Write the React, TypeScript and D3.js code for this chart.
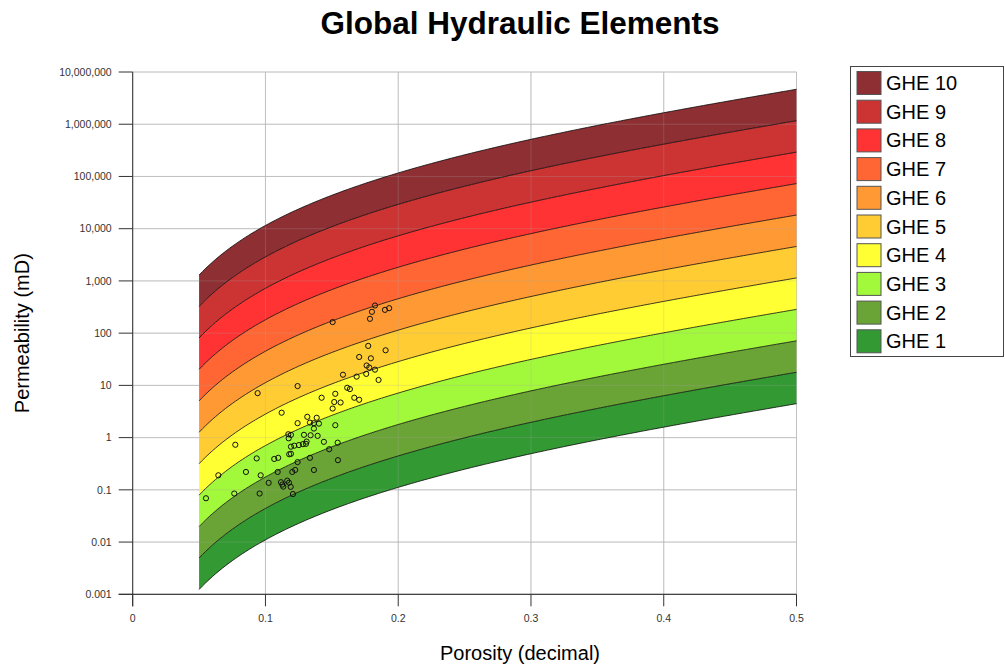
import React from "react";
import * as d3 from "d3";

// GHE band boundaries as Flow Zone Indicator (FZI) values, bottom (GHE 1 lower) to top (GHE 10 upper)
const FZI_BOUNDS = [0.0938, 0.1875, 0.375, 0.75, 1.5, 3, 6, 12, 24, 48, 96];
const GHE_NAMES = ["GHE 1", "GHE 2", "GHE 3", "GHE 4", "GHE 5", "GHE 6", "GHE 7", "GHE 8", "GHE 9", "GHE 10"];
const GHE_COLORS = ["#339933", "#6aa336", "#a2f83a", "#ffff33", "#ffcc33", "#ff9933", "#ff6633", "#ff3333", "#cc3333", "#8e2f33"];
const PHI_RANGE = [0.05, 0.5];

const X_TICKS = [0, 0.1, 0.2, 0.3, 0.4, 0.5];
const X_TICK_LABELS = ["0", "0.1", "0.2", "0.3", "0.4", "0.5"];
const Y_TICKS = [0.001, 0.01, 0.1, 1, 10, 100, 1000, 10000, 100000, 1000000, 10000000];
const Y_TICK_LABELS = ["0.001", "0.01", "0.1", "1", "10", "100", "1,000", "10,000", "100,000", "1,000,000", "10,000,000"];

// Core samples: porosity (decimal) and permeability (mD)
const SAMPLE_PHI = [
  0.1825, 0.1802, 0.1787, 0.19, 0.1932, 0.1506, 0.1774, 0.1905, 0.1706, 0.1794,
  0.1762, 0.1782, 0.1825, 0.1584, 0.1687, 0.1759, 0.1852, 0.0941, 0.1242, 0.1616,
  0.1636, 0.1526, 0.1423, 0.1518, 0.1566, 0.1669, 0.1706, 0.1506, 0.1122, 0.1315,
  0.1386, 0.1335, 0.1365, 0.1403, 0.1242, 0.1526, 0.1365, 0.1172, 0.1192, 0.129,
  0.134, 0.1393, 0.1175, 0.131, 0.144, 0.0773, 0.1544, 0.1192, 0.1217, 0.1252,
  0.1282, 0.1305, 0.148, 0.1179, 0.1192, 0.0934, 0.1066, 0.1096, 0.1335, 0.1242,
  0.1546, 0.0853, 0.0964, 0.1092, 0.1202, 0.1224, 0.1365, 0.0645, 0.1024, 0.1117,
  0.1127, 0.1164, 0.119, 0.1134, 0.0765, 0.0956, 0.1207, 0.0552, 0.1177,
];
const SAMPLE_K = [
  338, 256, 188, 279, 301, 163, 57, 47, 35, 33,
  24, 22, 20, 16, 14.7, 16.6, 12.7, 7.1, 9.7, 9.0,
  8.5, 6.9, 5.8, 4.8, 4.7, 5.8, 5.3, 3.6, 3.0, 2.5,
  2.4, 1.94, 1.89, 1.85, 1.89, 1.73, 1.49, 1.16, 1.13, 1.13,
  1.11, 1.08, 0.97, 0.84, 0.83, 0.73, 0.8, 0.67, 0.7, 0.72,
  0.75, 0.76, 0.6, 0.48, 0.49, 0.4, 0.39, 0.41, 0.41, 0.34,
  0.37, 0.22, 0.19, 0.22, 0.22, 0.24, 0.24, 0.19, 0.136, 0.14,
  0.126, 0.15, 0.114, 0.115, 0.085, 0.085, 0.083, 0.069, 0.137,
];

const W = 1005;
const H = 669;
const M = { left: 132.7, right: 796.5, top: 72, bottom: 594.3 };

// Kozeny-Carman relation defining the GHE boundaries
const perm = (phi: number, fzi: number) => 1014 * fzi * fzi * (phi * phi * phi) / ((1 - phi) * (1 - phi));

export default function App() {
  const x = d3.scaleLinear().domain([0, 0.5]).range([M.left, M.right]);
  const y = d3.scaleLog().domain([0.001, 10000000]).range([M.bottom, M.top]);

  const phis = d3.range(PHI_RANGE[0], PHI_RANGE[1] + 1e-9, 0.0025);

  const area = d3
    .area<number>()
    .x((p) => x(p))
    .curve(d3.curveLinear);

  const bands = GHE_NAMES.map((name, i) => {
    const lo = FZI_BOUNDS[i];
    const hi = FZI_BOUNDS[i + 1];
    const a = area.y0((p) => y(perm(p, lo))).y1((p) => y(perm(p, hi)));
    return { name, color: GHE_COLORS[i], d: a(phis) || "" };
  });

  const line = d3.line<number>().x((p) => x(p));
  const boundaryPaths = FZI_BOUNDS.map((f) => line.y((p) => y(perm(p, f)))(phis) || "");

  const font = "Arial, 'Liberation Sans', sans-serif";

  return (
    <svg
      width={W}
      height={H}
      style={{ position: "absolute", left: 0, top: 0, background: "#fff" }}
      fontFamily={font}
    >
      <rect x={0} y={0} width={W} height={H} fill="#fff" />
      {/* gridlines */}
      {Y_TICKS.map((t) => (
        <line key={"gy" + t} x1={M.left} x2={M.right} y1={y(t)} y2={y(t)} stroke="#c8c8c8" strokeWidth={1} />
      ))}
      {X_TICKS.map((t) => (
        <line key={"gx" + t} x1={x(t)} x2={x(t)} y1={M.top} y2={M.bottom} stroke="#c8c8c8" strokeWidth={1} />
      ))}

      {/* bands */}
      {bands.map((b) => (
        <path key={b.name} d={b.d} fill={b.color} stroke="none" />
      ))}

      {/* faint grid over bands */}
      {Y_TICKS.map((t) => (
        <line key={"oy" + t} x1={M.left} x2={M.right} y1={y(t)} y2={y(t)} stroke="rgba(170,170,170,0.25)" strokeWidth={1} />
      ))}
      {X_TICKS.map((t) => (
        <line key={"ox" + t} x1={x(t)} x2={x(t)} y1={M.top} y2={M.bottom} stroke="rgba(170,170,170,0.25)" strokeWidth={1} />
      ))}

      {/* boundary lines */}
      {boundaryPaths.map((d, i) => (
        <path key={"bl" + i} d={d} fill="none" stroke="rgba(0,0,0,0.75)" strokeWidth={1} />
      ))}

      {/* samples */}
      {SAMPLE_PHI.map((p, i) => (
        <circle key={"s" + i} cx={x(p)} cy={y(SAMPLE_K[i])} r={2.6} fill="none" stroke="#111" strokeWidth={1} />
      ))}

      {/* axes */}
      <line x1={M.left} x2={M.left} y1={M.top} y2={M.bottom + 12} stroke="#333" strokeWidth={1} />
      <line x1={M.left - 14} x2={M.right} y1={M.bottom} y2={M.bottom} stroke="#222" strokeWidth={1} />
      {Y_TICKS.map((t, i) => (
        <g key={"yt" + t}>
          <line x1={M.left - 14} x2={M.left} y1={y(t)} y2={y(t)} stroke="#333" strokeWidth={1} />
          <text x={M.left - 21} y={y(t)} dy="0.35em" textAnchor="end" fontSize={10.5} fill="#333">
            {Y_TICK_LABELS[i]}
          </text>
        </g>
      ))}
      {X_TICKS.map((t, i) => (
        <g key={"xt" + t}>
          <line x1={x(t)} x2={x(t)} y1={M.bottom} y2={M.bottom + 12} stroke="#333" strokeWidth={1} />
          <text x={x(t)} y={622} textAnchor="middle" fontSize={10.5} fill="#333">
            {X_TICK_LABELS[i]}
          </text>
        </g>
      ))}

      {/* titles */}
      <text x={520} y={34} textAnchor="middle" fontSize={31.5} fontWeight="bold" fill="#000">
        Global Hydraulic Elements
      </text>
      <text x={520} y={660} textAnchor="middle" fontSize={20} fill="#000">
        Porosity (decimal)
      </text>
      <text
        transform={`translate(29, ${(M.top + M.bottom) / 2}) rotate(-90)`}
        textAnchor="middle"
        fontSize={20}
        fill="#000"
      >
        Permeability (mD)
      </text>

      {/* legend */}
      <rect x={850.5} y={66.5} width={153} height={290} fill="#fff" stroke="#444" strokeWidth={1} />
      {GHE_NAMES.slice()
        .reverse()
        .map((name, j) => {
          const idx = GHE_NAMES.length - 1 - j;
          const cy = 83 + j * 28.7;
          return (
            <g key={"lg" + name}>
              <rect x={857} y={cy - 11.5} width={24} height={23} fill={GHE_COLORS[idx]} stroke="#555" strokeWidth={1} />
              <text x={886} y={cy + 7} fontSize={20} fill="#000">
                {name}
              </text>
            </g>
          );
        })}
    </svg>
  );
}
